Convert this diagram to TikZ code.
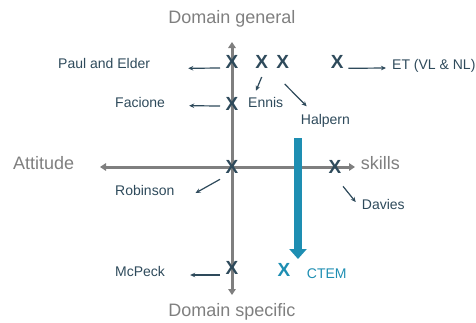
\documentclass[tikz,border=0pt]{standalone}
\usepackage{fontspec}
\setmainfont{Liberation Sans}
\usepackage{xcolor}
\usepackage{tikz}
\usetikzlibrary{arrows.meta,calc}
\definecolor{axisgray}{HTML}{7F7F7F}
\definecolor{navy}{HTML}{2E4A5B}
\definecolor{ctemblue}{HTML}{1E8EB2}

\begin{document}
\begin{tikzpicture}[x=1pt,y=-1pt,
  axis/.style={axisgray,line width=3pt,{Triangle[length=6pt,width=7.5pt]}-{Triangle[length=6pt,width=7.5pt]}},
  axislabel/.style={axisgray,inner sep=0pt,font=\fontsize{18}{20}\selectfont},
  xmark/.style={navy,inner sep=0pt,anchor=base,font=\fontsize{19}{21}\selectfont\bfseries},
  author/.style={navy,inner sep=0pt,anchor=base west,font=\fontsize{14}{16}\selectfont},
  pointer/.style={navy,line width=1.2pt,-{Stealth[length=5pt,width=4.5pt]}}]
\useasboundingbox (0,0) rectangle (476,322);

% axes
\coordinate (ytop) at (232,42);
\coordinate (ybot) at (232,295);
\coordinate (xleft) at (100,167);
\coordinate (xright) at (355,167);
\draw[axis] (ybot) -- (ytop);
\draw[axis] (xleft) -- (xright);
\node[axislabel,anchor=base] (general) at (232,23.5) {Domain general};
\node[axislabel,anchor=base] (specific) at (232,316.7) {Domain specific};
\node[axislabel,anchor=base west] (attitude) at (13,169) {Attitude};
\node[axislabel,anchor=base west] (skills) at (360.7,169) {skills};

% shift towards domain specific
\coordinate (ctemtop) at (298,138);
\coordinate (ctemtip) at (298,259);
\draw[ctemblue,line width=8.5pt,-{Triangle[length=10pt,width=17pt]}] (ctemtop) -- (ctemtip);

% positions
\node[xmark] (xpe) at (232,68) {X};    % Paul and Elder
\node[xmark] (xen) at (261.7,68) {X};  % Ennis
\node[xmark] (xha) at (282.7,68) {X};  % Halpern
\node[xmark] (xet) at (337.3,68.3) {X};% ET
\node[xmark] (xfa) at (232,110) {X};   % Facione
\node[xmark] (xro) at (232,173.3) {X}; % Robinson
\node[xmark] (xda) at (335,173.3) {X}; % Davies
\node[xmark] (xmc) at (232,274) {X};   % McPeck
\node[xmark,ctemblue] (xct) at (284,276.7) {X}; % CTEM

% names
\node[author] (pe) at (58,68.3) {Paul and Elder};
\node[author] (fa) at (115,107.7) {Facione};
\node[author] (en) at (248,107.7) {Ennis};
\node[author] (ha) at (300.7,124.3) {Halpern};
\node[author] (et) at (392,69) {ET (VL \& NL)};
\node[author] (ro) at (115,195) {Robinson};
\node[author] (mc) at (115,276) {McPeck};
\node[author] (da) at (361.7,209) {Davies};
\node[author,ctemblue] (ct) at (306.7,278.3) {CTEM};

% pointers
\draw[pointer] ($(xpe.base)+(-12,0)$) -- ($(pe.base east)+(38,0)$);
\draw[pointer] ($(xfa.base)+(-12,-4)$) -- ($(fa.base east)+(24,-2)$);
\draw[pointer] ($(xen.base)+(0,9)$) -- ($(en.base west)+(8,-17)$);
\draw[pointer] ($(xha.base)+(2,16)$) -- ($(ha.base west)+(6,-18)$);
\draw[pointer] ($(xet.base)+(11,0)$) -- ($(et.base west)+(-6,-1)$);
\draw[pointer] ($(xro.base)+(-12,6)$) -- ($(ro.base east)+(21,-2)$);
\draw[pointer] ($(xmc.base)+(-12,1)$) -- ($(mc.base east)+(25,-1)$);
\draw[pointer] ($(xda.base)+(8,13)$) -- ($(da.base west)+(-6,-7)$);
\end{tikzpicture}
\end{document}
